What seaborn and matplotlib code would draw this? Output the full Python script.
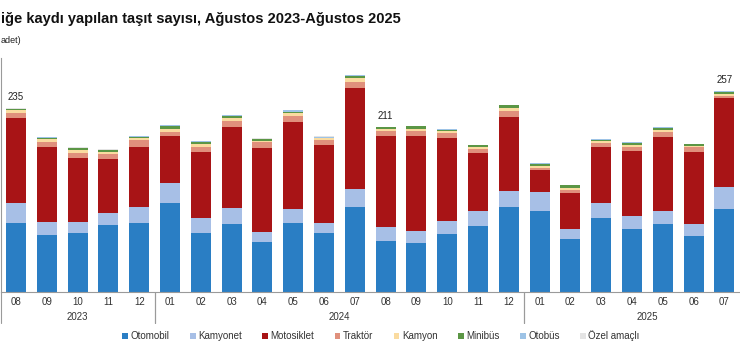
import numpy as np
import pandas as pd
import matplotlib
matplotlib.use("Agg")
import matplotlib.pyplot as plt
from matplotlib.patches import Patch
import seaborn as sns

# ---------------- data (thousand vehicles) ----------------
months = ["08", "09", "10", "11", "12",
          "01", "02", "03", "04", "05", "06", "07", "08", "09", "10", "11", "12",
          "01", "02", "03", "04", "05", "06", "07"]
years = ["2023", "2024", "2025"]
year_counts = [5, 12, 8]   # 2025 runs to August, whose bar lies beyond the visible frame

otomobil   = [88.5, 72.6, 74.8, 85.5, 88.5, 113.2, 75.6, 87.2, 63.2, 88.5, 74.8, 109.0,
              65.4, 62.0, 73.5, 84.2, 109.0, 103.8, 67.9, 94.9, 79.9, 86.8, 71.4, 106.4]
kamyonet   = [24.7, 17.1, 15.0, 15.8, 19.6, 25.7, 18.4, 19.6, 13.3, 17.5, 12.8, 22.6,
              17.1, 15.8, 17.1, 19.2, 20.5, 24.0, 12.4, 18.3, 17.1, 17.0, 14.9, 27.4]
motosiklet = [110.0, 96.2, 82.0, 68.4, 77.8, 60.7, 84.6, 104.3, 108.1, 112.0, 100.4, 129.9,
              117.1, 121.8, 106.8, 74.0, 94.9, 28.2, 45.8, 71.8, 83.3, 94.9, 92.7, 114.1]
traktor    = [6.4, 6.4, 6.4, 6.8, 8.5, 5.1, 7.3, 7.7, 6.9, 7.6, 6.0, 7.7,
              6.4, 6.8, 6.4, 5.5, 7.7, 3.0, 4.2, 5.2, 5.6, 5.6, 6.0, 3.0]
kamyon     = [3.0, 3.0, 3.4, 2.6, 2.6, 4.3, 3.4, 3.8, 2.1, 3.4, 2.6, 4.3,
              3.0, 2.6, 2.6, 2.6, 3.4, 2.5, 2.6, 2.5, 2.6, 3.0, 2.2, 2.5]
minibus    = [1.5, 2.0, 2.6, 2.6, 1.7, 3.8, 2.2, 3.0, 2.1, 1.8, 0.8, 3.4,
              1.8, 3.0, 1.3, 2.5, 3.4, 1.7, 3.4, 1.3, 2.5, 2.5, 1.7, 2.2]
otobus     = [0.5, 0.5, 0.5, 0.4, 0.5, 0.5, 1.2, 0.5, 0.5, 1.7, 0.6, 0.5,
              0.3, 0.4, 1.3, 0.4, 0.5, 1.8, 0.4, 1.3, 0.4, 1.3, 0.4, 1.2]
ozel       = [0.4, 0.3, 0.3, 0.3, 0.3, 0.3, 0.3, 0.3, 0.3, 0.3, 1.0, 0.3,
              0.2, 0.2, 0.2, 0.2, 0.2, 0.2, 0.2, 0.2, 0.2, 0.2, 0.2, 0.2]
series_names = ["Otomobil", "Kamyonet", "Motosiklet", "Traktör", "Kamyon",
                "Minibüs", "Otobüs", "Özel amaçlı"]
labelled_bars = [0, 12, 23]

# visible portion of the (cropped) title lines as in the reference
title_text = "iğe kaydı yapılan taşıt sayısı, Ağustos 2023-Ağustos 2025"
unit_text = "adet)"

colors = ["#2a7ec4", "#a7bfe6", "#a81416", "#e0907c", "#fadba0",
          "#5b9645", "#9dc3e6", "#e4e4e4"]

# ---------------- figure ----------------
sns.set_style("white")
plt.rcParams["font.family"] = ["Liberation Sans", "DejaVu Sans"]

W, H = 740, 364
fig = plt.figure(figsize=(W / 100, H / 100), dpi=100)

n_cat = sum(year_counts)
cat_px = 30.8
ax_left_px, base_px, top_px = 0.6, 291.7, 57.7
ax = fig.add_axes([ax_left_px / W, (H - base_px) / H,
                   n_cat * cat_px / W, (base_px - top_px) / H])

keys = [f"{i:02d}" for i in range(n_cat)]
all_series = [otomobil, kamyonet, motosiklet, traktor, kamyon, minibus, otobus, ozel]
n_bars = len(otomobil)
cum = np.cumsum(np.array(all_series), axis=0)

for i in reversed(range(len(all_series))):
    df = pd.DataFrame({"k": keys[:n_bars], "v": cum[i]})
    sns.barplot(data=df, x="k", y="v", order=keys, color=colors[i],
                saturation=1, width=0.65, errorbar=None, ax=ax, linewidth=0)

totals = cum[-1]
for j in labelled_bars:
    ax.annotate(f"{round(totals[j]):d}", (j, totals[j]), xytext=(0, 4.5),
                textcoords="offset points", ha="center", va="bottom",
                fontsize=7, color="#222222")

ax.set_xlim(-0.5, n_cat - 0.5)
ax.set_ylim(0, 300)
ax.set_yticks(np.arange(0, 301, 50))
ax.set_xlabel("")
ax.set_ylabel("")
ax.set_xticks(range(len(months)))
ax.set_xticklabels(months, fontsize=7, color="#333333")
ax.set_xticks(np.arange(-0.5, n_cat, 1), minor=True)
ax.tick_params(axis="x", which="major", length=0, pad=4)
ax.tick_params(axis="x", which="minor", length=11, width=0.8, color="#9a9a9a", direction="out")
ax.tick_params(axis="y", which="major", length=3, width=0.8, color="#9a9a9a",
               direction="inout", labelleft=False)
for s in ["top", "right"]:
    ax.spines[s].set_visible(False)
for s in ["left", "bottom"]:
    ax.spines[s].set_color("#9a9a9a")
    ax.spines[s].set_linewidth(0.8)

# year group labels and dividers
trans = ax.get_xaxis_transform()
axh = base_px - top_px
start = 0
for y, c in zip(years, year_counts):
    ax.text(start + (c - 1) / 2, -25 / axh, y, transform=trans, ha="center",
            va="center", fontsize=7, color="#333333")
    for b in (start - 0.5, start + c - 0.5):
        ax.plot([b, b], [0, -31 / axh], transform=trans, color="#9a9a9a",
                lw=0.8, clip_on=False)
    start += c

# titles
fig.text(1 / W, 1 - 23 / H, title_text,
         fontsize=10.5, fontweight="bold", color="#111111", va="baseline", ha="left")
fig.text(0.5 / W, 1 - 43 / H, unit_text, fontsize=6.5, color="#222222",
         va="baseline", ha="left")

handles = [Patch(facecolor=c, edgecolor="none") for c in colors]
fig.legend(handles, series_names, ncol=8, loc="center",
           bbox_to_anchor=(381 / W, (H - 336) / H), frameon=False,
           fontsize=7, handlelength=0.6, handleheight=0.6, handletextpad=0.25,
           columnspacing=2.1, labelcolor="#333333")

fig.savefig("out.png", dpi=100)
